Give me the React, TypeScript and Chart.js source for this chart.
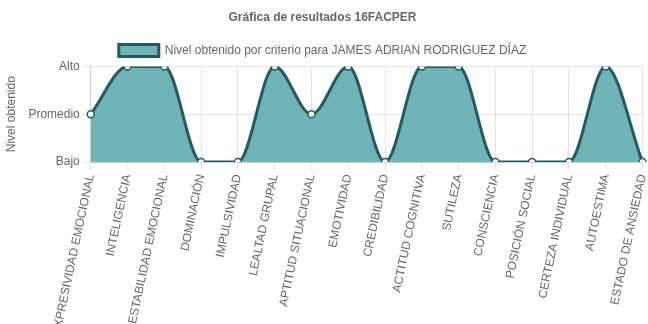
import React, { useEffect, useRef } from "react";
import { Chart, registerables } from "chart.js";
Chart.register(...registerables);

const categories = [
  "EXPRESIVIDAD EMOCIONAL",
  "INTELIGENCIA",
  "ESTABILIDAD EMOCIONAL",
  "DOMINACIÓN",
  "IMPULSIVIDAD",
  "LEALTAD GRUPAL",
  "APTITUD SITUACIONAL",
  "EMOTIVIDAD",
  "CREDIBILIDAD",
  "ACTITUD COGNITIVA",
  "SUTILEZA",
  "CONSCIENCIA",
  "POSICIÓN SOCIAL",
  "CERTEZA INDIVIDUAL",
  "AUTOESTIMA",
  "ESTADO DE ANSIEDAD",
];
const values = [2, 3, 3, 1, 1, 3, 2, 3, 1, 3, 3, 1, 1, 1, 3, 1];
const levelLabels: Record<number, string> = { 1: "Bajo", 2: "Promedio", 3: "Alto" };
const seriesLabel = "Nivel obtenido por criterio para JAMES ADRIAN RODRIGUEZ DÍAZ";
const titleText = "Gráfica de resultados 16FACPER";
const yTitle = "Nivel obtenido";

export default function App() {
  const ref = useRef<HTMLCanvasElement>(null);
  useEffect(() => {
    Chart.defaults.font.family = "'Liberation Sans', Arial, sans-serif";
    Chart.defaults.font.size = 12;
    Chart.defaults.color = "#666";
    const chart = new Chart(ref.current!, {
      type: "line",
      data: {
        labels: categories,
        datasets: [
          {
            label: seriesLabel,
            data: values,
            fill: true,
            backgroundColor: "rgba(96,172,176,0.9)",
            borderColor: "#235a63",
            borderWidth: 3,
            cubicInterpolationMode: "monotone",
            pointRadius: 3.5,
            pointBackgroundColor: "#ffffff",
            pointBorderColor: "#235a63",
            pointBorderWidth: 1.5,
          },
        ],
      },
      options: {
        animation: false,
        responsive: false,
        layout: { padding: { left: 0, right: 3, top: 0, bottom: 0 } },
        plugins: {
          title: {
            display: true,
            text: titleText,
            font: { size: 12, weight: "bold" },
            color: "#666",
            padding: { top: 10, bottom: 10 },
          },
          legend: {
            labels: {
              boxWidth: 40,
              boxHeight: 12,
              font: { size: 12 },
              color: "#666",
            },
          },
          tooltip: { enabled: false },
        },
        scales: {
          x: {
            offset: false,
            grid: { color: "rgba(0,0,0,0.1)", tickLength: 8 },
            ticks: { minRotation: 78, maxRotation: 78, color: "#666", font: { size: 12 }, autoSkip: false },
            afterFit: (scale: any) => {
              scale.paddingRight = 0;
            },
          },
          y: {
            min: 1,
            max: 3,
            title: { display: true, text: yTitle, color: "#666", font: { size: 12 }, padding: { top: 4, bottom: 7 } },
            grid: { color: "rgba(0,0,0,0.1)", tickLength: 8 },
            ticks: {
              stepSize: 1,
              color: "#666",
              font: { size: 12 },
              callback: (v: any) => levelLabels[v as number] ?? "",
            },
          },
        },
      },
    });
    return () => chart.destroy();
  }, []);
  return (
    <div style={{ position: "fixed", left: 0, top: 0, width: 648, height: 324 }}>
      <canvas ref={ref} width={648} height={324} style={{ width: 648, height: 324 }} />
    </div>
  );
}
